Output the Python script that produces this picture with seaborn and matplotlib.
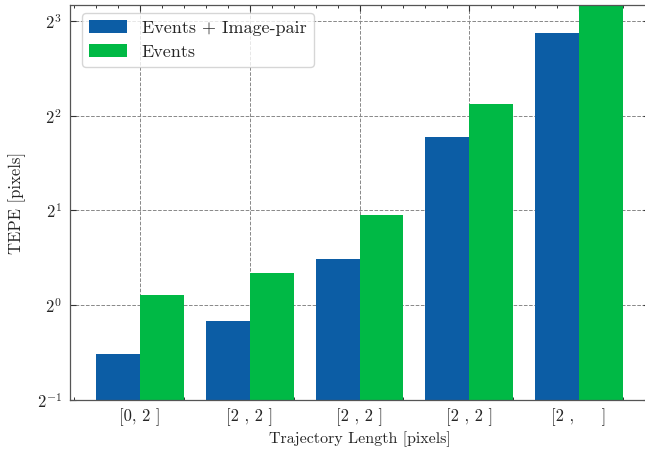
import matplotlib
matplotlib.use("Agg")
import matplotlib.pyplot as plt
from matplotlib.ticker import AutoMinorLocator, LogLocator, LogFormatterMathtext, NullLocator
import seaborn as sns
import pandas as pd

categories = ["[0, 2 ]", "[2 , 2 ]", "[2 , 2 ]", "[2 , 2 ]", "[2 ,     ]"]
series_names = ["Events + Image-pair", "Events"]
events_image_pair = [0.70, 0.893, 1.40, 3.43, 7.33]
events_only = [1.08, 1.268, 1.93, 4.37, 9.5]
colors = ["#0C5DA5", "#00B945"]

rows = []
for i, c in enumerate(categories):
    rows.append({"pos": i, "cat": c, "method": series_names[0], "tepe": events_image_pair[i]})
    rows.append({"pos": i, "cat": c, "method": series_names[1], "tepe": events_only[i]})
df = pd.DataFrame(rows)

sns.set_style("ticks")
plt.rcParams.update({
    "font.family": "serif",
    "font.serif": ["cmr10"],
    "mathtext.fontset": "cm",
    "axes.formatter.use_mathtext": True,
    "font.size": 11,
    "xtick.direction": "in",
    "ytick.direction": "in",
    "xtick.top": True,
    "ytick.right": True,
    "axes.linewidth": 0.9,
    "axes.edgecolor": "#555555",
})

fig = plt.figure(figsize=(6.45, 4.55), dpi=100)
ax = fig.add_axes([70/645, 55/455, 579/645, 395/455])

sns.barplot(data=df, x="pos", y="tepe", hue="method", palette=colors,
            saturation=1, width=0.8, linewidth=0, errorbar=None, ax=ax, zorder=2)

ax.set_yscale("log", base=2)
ax.set_ylim(0.5, 2 ** 3.168)
ax.yaxis.set_major_locator(LogLocator(base=2))
ax.yaxis.set_major_formatter(LogFormatterMathtext(base=2))
ax.yaxis.set_minor_locator(NullLocator())
ax.set_xlim(-0.64, 4.64)
ax.set_xticks(range(len(categories)))
ax.set_xticklabels(categories)
ax.xaxis.set_minor_locator(AutoMinorLocator(5))

ax.tick_params(which="major", length=4, width=0.8, color="#333333", labelsize=12, pad=6)
ax.tick_params(which="minor", length=2, width=0.7, color="#333333")

ax.set_axisbelow(True)
ax.grid(True, which="major", linestyle="--", color="#888888", linewidth=0.7)

ax.set_xlabel("Trajectory Length [pixels]", fontsize=11.5, labelpad=4)
ax.set_ylabel("TEPE [pixels]", fontsize=12, labelpad=8)

leg = ax.legend(loc="upper left", fontsize=13, frameon=True, fancybox=True,
                framealpha=0.8, edgecolor="#cccccc", handlelength=2.1,
                handleheight=0.7, borderpad=0.4, labelspacing=0.45,
                handletextpad=0.8,
                bbox_to_anchor=(12/579, 1 - 8/395), borderaxespad=0.0)
leg.set_title(None)

fig.savefig("out.png", dpi=100)
